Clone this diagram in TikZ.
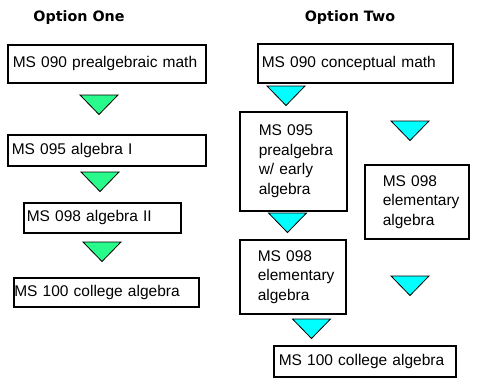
\documentclass[tikz,border=0pt]{standalone}
\usepackage{fontspec}
\setmainfont{Liberation Sans}
\newfontfamily\headfont{DejaVu Sans}
\hyphenpenalty=10000
\hfuzz=30pt
\definecolor{dropgreen}{RGB}{40,250,140}
\definecolor{dropcyan}{RGB}{0,255,255}
\tikzset{
  course/.style={draw, line width=1.6pt, anchor=north west, align=left, inner ysep=0pt,
    font=\fontsize{15.5}{19.5}\selectfont},
  head/.style={anchor=base, font=\headfont\bfseries\fontsize{14.3}{17}\selectfont},
  drop/.pic={\draw[pic actions, line width=0.8pt] (-19,0) -- (19,0) -- (0,19.5) -- cycle;}
}
\begin{document}
\begin{tikzpicture}[x=1pt, y=-1pt]
\path[fill=white, use as bounding box] (0,0) rectangle (477,384);
% option one
\node[head] (one) at (79,21) {Option One};
\node[course, minimum height=38, inner xsep=5, text width=188] (prealg) at (7,44) {MS 090 prealgebraic math};
\node[course, minimum height=31, inner xsep=4, text width=190] (algI) at (7,134) {MS 095 algebra I};
\node[course, minimum height=30, inner xsep=3, text width=151] (algII) at (23,202) {MS 098 algebra II};
\node[course, minimum height=29, inner xsep=0.5, text width=184] (collOne) at (13,277) {MS 100 college algebra};
\foreach \x/\y in {99/95, 100/172, 102/242} \pic[fill=dropgreen] at (\x,\y) {drop};
% option two
\node[head] (two) at (350,21) {Option Two};
\node[course, minimum height=39, inner xsep=4, text width=187] (concept) at (257,43) {MS 090 conceptual math};
\node[course, minimum height=99, inner xsep=19, text width=69] (early) at (239,111) {MS 095\\prealgebra\\w/ early\\algebra};
\node[course, minimum height=74, inner xsep=18, text width=68] (elemR) at (364,164) {MS 098\\elementary\\algebra};
\node[course, minimum height=74, inner xsep=18, text width=70] (elemL) at (239,239) {MS 098\\elementary\\algebra};
\node[course, minimum height=31, inner xsep=5, text width=172] (collTwo) at (273,345) {MS 100 college algebra};
\foreach \x/\y in {286/86, 410/121, 287.5/213, 410/276, 311.5/319} \pic[fill=dropcyan] at (\x,\y) {drop};
\end{tikzpicture}
\end{document}
